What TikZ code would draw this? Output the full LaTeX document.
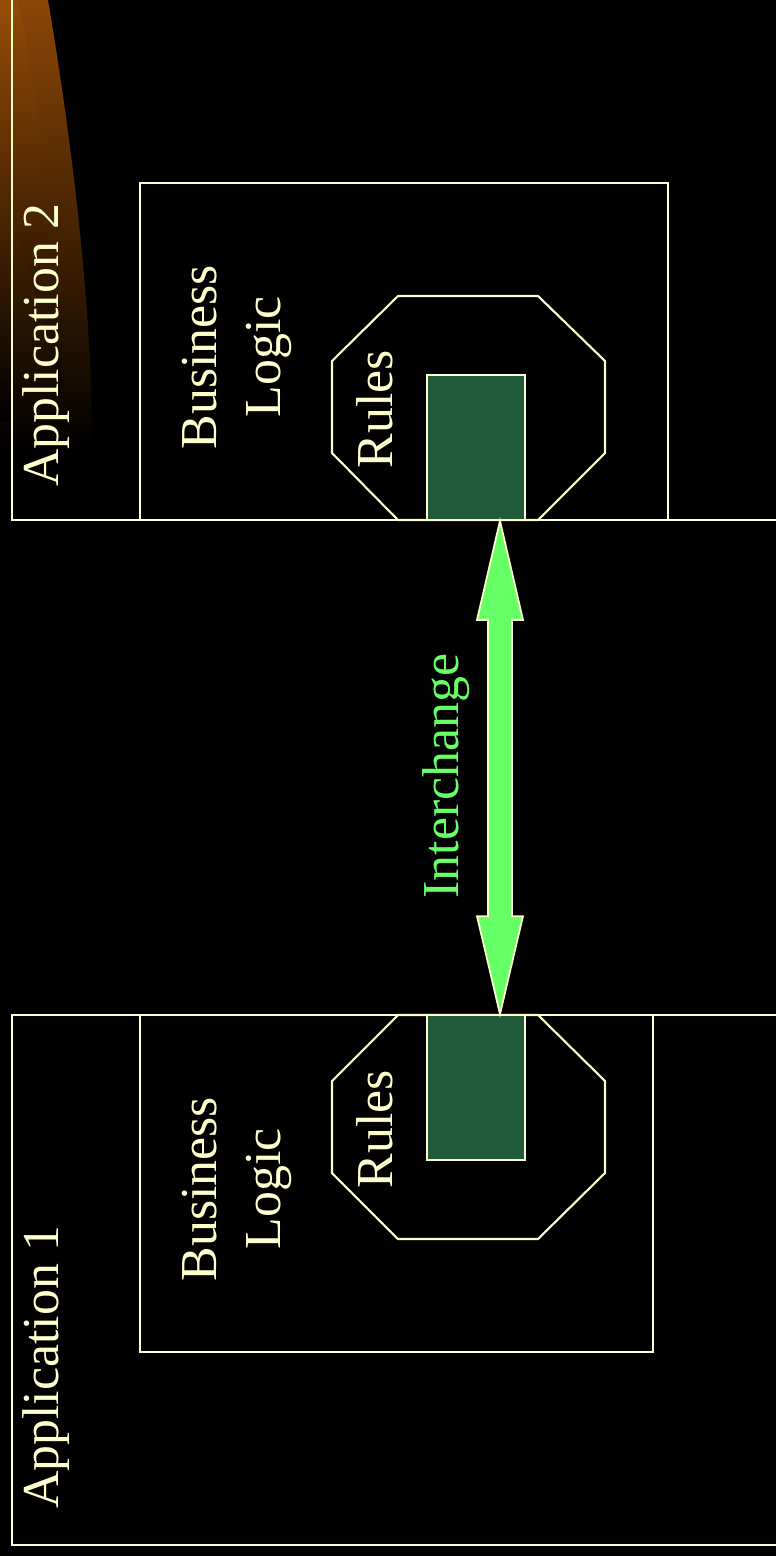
\documentclass[tikz,border=0pt]{standalone}
\usepackage{fontspec}
\setmainfont{Liberation Serif}
\usetikzlibrary{calc,positioning}

\definecolor{cream}{RGB}{255,255,204}
\definecolor{xgreen}{RGB}{102,255,102}
\definecolor{marble}{RGB}{32,90,58}
\definecolor{glow}{RGB}{140,70,6}

\begin{document}
\begin{tikzpicture}[
x=0.02cm, y=-0.02cm,
frame/.style={draw=cream, line width=1.2pt},
store/.style={draw=cream, fill=marble, line width=1pt, inner sep=0pt, minimum width=1.96cm, minimum height=2.9cm},
lbl/.style={text=cream, rotate=90, inner sep=0pt, align=center, font=\fontsize{29.5}{36}\selectfont},
xchg/.style={draw=cream, fill=xgreen, line width=1pt, line join=miter}
]

% Background and page size
\fill[black] (0,0) rectangle (776,1556);
\useasboundingbox (0,0) rectangle (776,1556);
\clip (0,0) rectangle (776,1556);

% Orange swoosh (top left)
\shade[top color=glow, middle color=glow!35!black, bottom color=black] (0,0) -- (48,0) .. controls (70,130) and (92,300) .. (92,440) .. controls (70,445) and (30,450) .. (0,450) -- cycle;
\shade[top color=glow!85!orange, bottom color=black, opacity=0.5] (0,0) -- (18,0) .. controls (40,100) and (56,250) .. (62,400) .. controls (40,300) and (15,220) .. (0,180) -- cycle;
\shade[top color=glow!90!orange, bottom color=black] (0,0) -- (12,0) -- (12,420) -- (0,420) -- cycle;

% Application boxes
\draw[frame] (800,-10) -- (12,-10) -- (12,520) -- (800,520);
\draw[frame] (800,1015) -- (12,1015) -- (12,1545) -- (800,1545);

% Business logic boxes
\draw[frame] (140,183) rectangle (668,520);
\draw[frame] (140,1015) rectangle (653,1352);

% Rules octagons
\draw[frame] (398,296) -- ++(140,0) -- ++(67,65) -- ++(0,92) -- ++(-67,67) -- ++(-140,0) -- ++(-66,-67) -- ++(0,-92) -- cycle;
\draw[frame] (398,1015) -- ++(140,0) -- ++(67,66) -- ++(0,92) -- ++(-67,66) -- ++(-140,0) -- ++(-66,-66) -- ++(0,-92) -- cycle;

% Rule stores
\node[store] (store2) at (476,447.5) {};
\node[store] (store1) at (476,1087.5) {};

% Interchange arrow
\coordinate (tip2) at ($(store2.south)+(24,0)$);
\coordinate (tip1) at ($(store1.north)+(24,0)$);
\draw[xchg] (tip2) -- ($(tip2)+(23,99)$) -- ($(tip2)+(12,99)$) -- ($(tip1)+(12,-98)$) -- ($(tip1)+(23,-98)$)
  -- (tip1) -- ($(tip1)+(-23,-98)$) -- ($(tip1)+(-12,-98)$) -- ($(tip2)+(-12,99)$) -- ($(tip2)+(-23,99)$) -- cycle;

% Labels
\node[lbl] (app2) at (46,345) {Application 2};
\node[lbl] (app1) at (46,1367) {Application 1};
\node[lbl] (logic2) at (237,357) {Business\\Logic};
\node[lbl] (logic1) at (237,1189) {Business\\Logic};
\node[lbl] (rules2) at (375,409) {Rules};
\node[lbl] (rules1) at (375,1129) {Rules};
\node[lbl, text=xgreen] (xlabel) at (446,776) {Interchange};

\end{tikzpicture}
\end{document}
